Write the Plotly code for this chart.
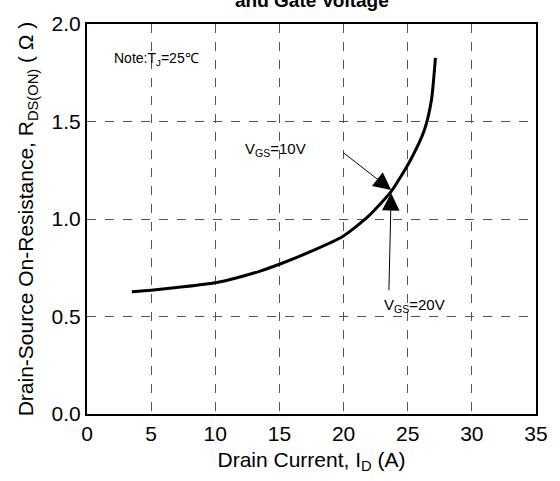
import plotly.graph_objects as go

# Data
drain_current = [3.5, 5, 7.5, 10, 11.7, 13.5, 15.2, 17.5, 19.9, 21.9, 23.7, 25.2, 26.3, 26.85, 27.16]
rds_on = [0.627, 0.635, 0.652, 0.673, 0.699, 0.733, 0.773, 0.835, 0.909, 1.012, 1.14, 1.30, 1.456, 1.61, 1.826]

x_ticks = [0, 5, 10, 15, 20, 25, 30, 35]
y_ticks = [0.0, 0.5, 1.0, 1.5, 2.0]
y_tick_text = ["0.0", "0.5", "1.0", "1.5", "2.0"]

FONT = "Liberation Sans, Arial, sans-serif"

fig = go.Figure()
fig.add_trace(go.Scatter(
    x=drain_current, y=rds_on, mode="lines",
    line=dict(color="black", width=3, shape="spline", smoothing=0.6),
    showlegend=False, hoverinfo="skip",
))

fig.update_layout(
    width=560, height=481,
    margin=dict(l=87, r=16, t=24, b=67),
    paper_bgcolor="white", plot_bgcolor="white",
    font=dict(family=FONT, color="black"),
)

fig.update_xaxes(
    range=[0, 35], tickvals=x_ticks, ticks="", showline=True, mirror=True,
    linecolor="black", linewidth=2, showgrid=True, gridcolor="#555555",
    griddash="dash", gridwidth=1, tickfont=dict(size=21, family=FONT),
    title=dict(text="Drain Current, I<sub>D</sub> (A)", font=dict(size=21, family=FONT), standoff=8),
    zeroline=False,
)
fig.update_yaxes(
    range=[0, 2.0], tickvals=y_ticks, ticktext=y_tick_text, ticks="", showline=True,
    mirror=True, linecolor="black", linewidth=2, showgrid=True, gridcolor="#555555",
    griddash="dash", gridwidth=1, tickfont=dict(size=21, family=FONT),
    title=dict(text="Drain-Source On-Resistance, R<sub>DS(ON)</sub> ( Ω )", font=dict(size=21, family=FONT), standoff=12),
    zeroline=False,
)

# Cut-off title line at top
fig.add_annotation(
    xref="paper", yref="paper", x=0.5, y=1 + 11 / 390, yanchor="bottom", xanchor="center",
    text="<b>and Gate Voltage</b>", showarrow=False, font=dict(size=19, family=FONT),
)

# Note
fig.add_annotation(
    x=1.95, y=1.82, xref="x", yref="y", xanchor="left", yanchor="middle",
    text="Note:T<sub>J</sub>=25℃", showarrow=False, font=dict(size=14, family=FONT),
)

# VGS=10V label and arrow
fig.add_annotation(
    x=14.7, y=1.354, xref="x", yref="y", text="V<sub>GS</sub>=10V", showarrow=False,
    font=dict(size=15, family=FONT),
)
fig.add_annotation(
    x=23.71, y=1.149, ax=19.89, ay=1.345, xref="x", yref="y", axref="x", ayref="y",
    text="", showarrow=True, arrowhead=2, arrowsize=3.5, arrowwidth=1, arrowcolor="black",
)

# VGS=20V label and arrow
fig.add_annotation(
    x=25.5, y=0.554, xref="x", yref="y", text="V<sub>GS</sub>=20V", showarrow=False,
    font=dict(size=15, family=FONT),
)
fig.add_annotation(
    x=23.71, y=1.133, ax=23.53, ay=0.627, xref="x", yref="y", axref="x", ayref="y",
    text="", showarrow=True, arrowhead=2, arrowsize=3.5, arrowwidth=1, arrowcolor="black",
)

fig.write_html("out.html")
